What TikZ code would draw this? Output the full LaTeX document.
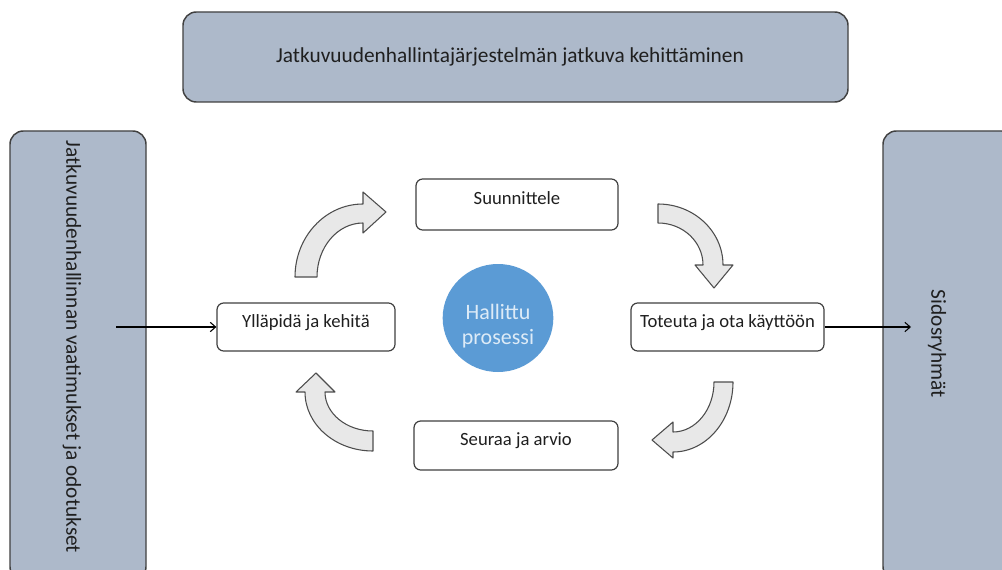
\documentclass[tikz,border=0pt]{standalone}
\usepackage{fontspec}
\setmainfont{Carlito}
\usetikzlibrary{arrows.meta,shapes.geometric}
\definecolor{sidefill}{HTML}{ADB9CA}
\definecolor{edge}{HTML}{404040}
\definecolor{cfill}{HTML}{E8E8E8}
\definecolor{cedge}{HTML}{4D4D4D}
\definecolor{ellfill}{HTML}{5B9BD5}
\definecolor{elltext}{HTML}{DDEBF7}
\definecolor{txt}{HTML}{1F1F1F}
\begin{document}
\begin{tikzpicture}[x=0.75pt,y=-0.75pt,
  bigbox/.style={draw=edge,line width=1.1pt,fill=sidefill,rounded corners=10pt,inner sep=0pt},
  bigtext/.style={text=txt,font=\fontsize{16}{19}\selectfont,inner sep=0pt},
  stepbox/.style={draw=edge,line width=0.9pt,fill=white,rounded corners=5pt,inner sep=0pt,
    text height=17.5pt,text depth=17.5pt,text=txt,font=\fontsize{14}{17}\selectfont},
  curvearrow/.style={draw=cedge,line width=0.8pt,fill=cfill,line join=round},
  conn/.style={draw=black,line width=0.8pt,-{Straight Barb[length=4pt,width=7pt]}}]
\useasboundingbox (0,0) rectangle (1002,570);
\clip (0,0) rectangle (1002,570);
\fill[white] (0,0) rectangle (1002,570);

% large boxes
\node[bigbox,minimum width=498.75pt,minimum height=67.5pt] (top) at (515.5,57) {};
\node[bigtext] (toptext) at (510,57) {Jatkuvuudenhallintajärjestelmän jatkuva kehittäminen};
\node[bigbox,minimum width=102pt,minimum height=336.75pt] (left) at (78,355.5) {};
\node[bigtext,rotate=-90] (lefttext) at (72,347) {Jatkuvuudenhallinnan vaatimukset ja odotukset};
\node[bigbox,minimum width=99pt,minimum height=336.75pt] (right) at (949,355.5) {};
\node[bigtext,rotate=-90] (righttext) at (937,344) {Sidosryhmät};

% steps
\node[stepbox,minimum width=151.5pt,minimum height=38.25pt] (suu) at (517,204.5) {Suunnittele};
\node[stepbox,minimum width=144.75pt,minimum height=36pt] (tot) at (727.5,327) {Toteuta ja ota käyttöön};
\node[stepbox,minimum width=133.5pt,minimum height=36pt] (yll) at (306,327) {Ylläpidä ja kehitä};
\node[stepbox,minimum width=153pt,minimum height=36.75pt] (seu) at (516,445.5) {Seuraa ja arvio};

% centre
\node[ellipse,fill=ellfill,minimum width=83pt,minimum height=81pt,inner sep=0pt] (hal) at (498,318) {};
\node[text=elltext,align=center,inner sep=0pt,font=\fontsize{16.5}{18.5}\selectfont] (haltext) at (498,326) {Hallittu\\prosessi};

% curved arrows
\draw[curvearrow] (295,277) .. controls (295,236.7) and (325.4,204) .. (363,204)
  -- (363,192) -- (386,212) -- (363,233) -- (363,223)
  .. controls (337.6,223) and (317,247.2) .. (317,277) -- cycle;
\draw[curvearrow] (658,204) .. controls (693.9,204) and (723,231.3) .. (723,265)
  -- (733,265) -- (714,288) -- (695,265) -- (703,265)
  .. controls (703,241.8) and (682.9,223) .. (658,223) -- cycle;
\draw[curvearrow] (714,382) -- (733,382) .. controls (733,420.7) and (706.1,452) .. (673,452)
  -- (673,458) -- (652,440) -- (673,422) -- (673,432)
  .. controls (695.6,432) and (714,409.6) .. (714,382) -- cycle;
\draw[curvearrow] (373,431) -- (373,451) .. controls (335.4,451) and (305,424.6) .. (305,392)
  -- (296,392) -- (316,373) -- (335,392) -- (325,392)
  .. controls (325,413.5) and (346.5,431) .. (373,431) -- cycle;

% connectors
\coordinate (lin) at (116,327);
\coordinate (rout) at (911,327);
\draw[conn] (lin) -- (yll.west);
\draw[conn] (tot.east) -- (rout);
\end{tikzpicture}
\end{document}
